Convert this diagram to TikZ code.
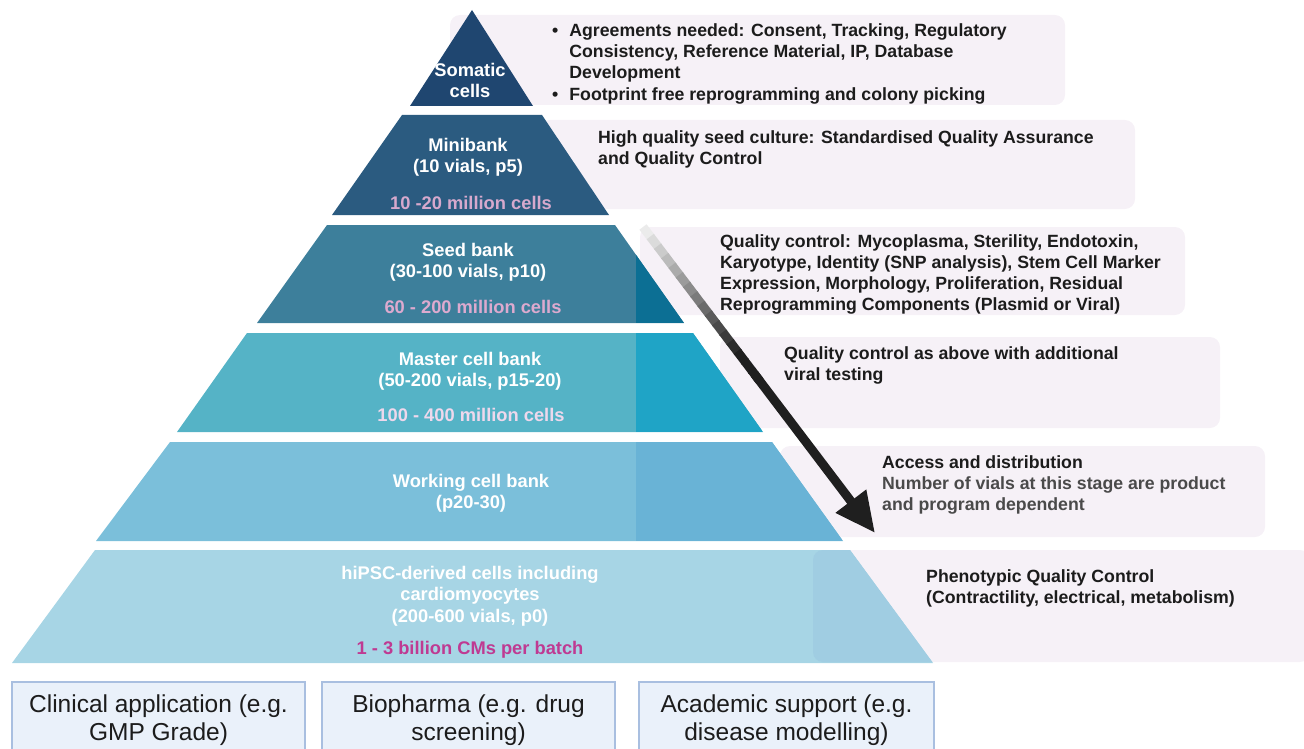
\documentclass[tikz,border=0pt]{standalone}
\usepackage{fontspec}
\setmainfont{Liberation Sans}
\usetikzlibrary{arrows.meta}
\usetikzlibrary{calc}

\definecolor{somatic}{HTML}{1F4670}
\definecolor{minibank}{HTML}{2B5B80}
\definecolor{seedL}{HTML}{3D7F9B}
\definecolor{seedR}{HTML}{0C6F94}
\definecolor{masterL}{HTML}{55B3C6}
\definecolor{masterR}{HTML}{1FA4C6}
\definecolor{workL}{HTML}{7BBFDA}
\definecolor{workR}{HTML}{69B3D6}
\definecolor{hipsc}{HTML}{A7D5E5}
\definecolor{hipscR}{HTML}{A0CDE2}
\definecolor{infobg}{HTML}{F6F1F7}
\definecolor{pinkA}{HTML}{D6A9CD}
\definecolor{pinkB}{HTML}{DDAACF}
\definecolor{pinkC}{HTML}{EED8EC}
\definecolor{cmpink}{HTML}{BF3A92}
\definecolor{appbg}{HTML}{EAF1FA}
\definecolor{appline}{HTML}{A9BFE0}
\definecolor{ink}{HTML}{1C1C1C}
\definecolor{greyink}{HTML}{4A4A4A}

\begin{document}
\begin{tikzpicture}[x=1pt, y=-1pt,
        tier/.style={text=white, font=\fontsize{18.3}{21.5}\selectfont\bfseries, align=center, inner sep=0pt, anchor=north},
        cellcount/.style={font=\fontsize{18.3}{21.5}\selectfont\bfseries, inner sep=0pt, anchor=north},
        info/.style={fill=infobg, rounded corners=10pt},
        infotext/.style={text=ink, font=\fontsize{17.7}{21.3}\selectfont\bfseries, align=left, inner sep=0pt, anchor=north west},
        app/.style={draw=appline, fill=appbg, line width=1.5pt, text=ink, font=\fontsize{24.5}{28}\selectfont, align=center, anchor=north, minimum height=76pt, inner sep=0pt}
        ]
        \useasboundingbox (0,0) rectangle (1304,749);
        \clip (0,0) rectangle (1304,749);

        % panels behind the pyramid
        \fill[info] (450,15) rectangle (1065,105);
        \fill[info] (540,120) rectangle (1135,209);
        \fill[info] (640,227) rectangle (1185,315);
        \fill[info] (720,337) rectangle (1220,428);
        \fill[info] (780,446) rectangle (1265,537);
        \fill[info] (813,550) rectangle (1310,662);

        % pyramid
        \fill[somatic] (472,10) -- (533,106) -- (410,106) -- cycle;
        \fill[minibank] (402,115) -- (542,115) -- (609,215) -- (332,215) -- cycle;
        \foreach \ya/\yb/\xa/\xb/\xc/\xd/\lc/\rc in {
            225/323/327/615/257/684/seedL/seedR,
            333/432/247/693/177/763/masterL/masterR,
            442/541/170/772/96/843/workL/workR}{
            \fill[\lc] (\xa,\ya) -- (\xb,\ya) -- (\xd,\yb) -- (\xc,\yb) -- cycle;
            \begin{scope}
                \clip (\xa,\ya) -- (\xb,\ya) -- (\xd,\yb) -- (\xc,\yb) -- cycle;
                \fill[\rc] (636,\ya) rectangle (\xd,\yb);
            \end{scope}
        }
        \fill[hipsc] (95,550) -- (850,550) -- (933,663) -- (12,663) -- cycle;
        \begin{scope}
            \clip (95,550) -- (850,550) -- (933,663) -- (12,663) -- cycle;
            \fill[hipscR, rounded corners=10pt] (813,550) rectangle (1310,662);
        \end{scope}

        % tier labels
        \node[tier] (somaticT) at (470,63) {Somatic\\cells};
        \node[tier] (miniT) at (468,138) {Minibank\\(10 vials, p5)};
        \node[cellcount, text=pinkA] (miniN) at (471,196) {10 -20 million cells};
        \node[tier] (seedT) at (468,243) {Seed bank\\(30-100 vials, p10)};
        \node[cellcount, text=pinkB] (seedN) at (473,300) {60 - 200 million cells};
        \node[tier] (masterT) at (470,352) {Master cell bank\\(50-200 vials, p15-20)};
        \node[cellcount, text=pinkC] (masterN) at (471,408) {100 - 400 million cells};
        \node[tier] (workT) at (471,474) {Working cell bank\\(p20-30)};
        \node[tier] (hipscT) at (470,566) {hiPSC-derived cells including\\cardiomyocytes\\(200-600 vials, p0)};
        \node[cellcount, text=cmpink] (hipscN) at (470,641) {1 - 3 billion CMs per batch};

        % process arrow, fading in from the top
        \coordinate (flowS) at (643,227);
        \coordinate (flowE) at (875,533);
        \foreach \i in {0,...,15}{
            \pgfmathsetmacro\ta{\i/32}
            \pgfmathsetmacro\tb{\i/32+0.035}
            \pgfmathsetmacro\tone{8+80*min(1,\ta/0.4)}
            \draw[line width=9pt, black!\tone] ($(flowS)!\ta!(flowE)$) -- ($(flowS)!\tb!(flowE)$);
        }
        \draw[line width=9pt, black!88, -{Triangle[length=40pt, width=36pt]}] ($(flowS)!0.48!(flowE)$) -- (flowE);

        % panel texts
        \node[infotext] (agreeT) at (552,21) {\begin{tabular}{@{}l@{\hspace{11pt}}l@{}}
            \textbullet & Agreements needed: Consent, Tracking, Regulatory\\
             & Consistency, Reference Material, IP, Database\\
             & Development\\
            \textbullet & Footprint free reprogramming and colony picking
            \end{tabular}};
        \node[infotext] (seedQ) at (598,130) {High quality seed culture: Standardised Quality Assurance\\and Quality Control};
        \node[infotext] (qcT) at (720,234) {Quality control: Mycoplasma, Sterility, Endotoxin,\\Karyotype, Identity (SNP analysis), Stem Cell Marker\\Expression, Morphology, Proliferation, Residual\\Reprogramming Components (Plasmid or Viral)};
        \node[infotext] (viralT) at (784,346) {Quality control as above with additional\\viral testing};
        \node[infotext] (accessT) at (882,455) {Access and distribution\\\textcolor{greyink}{Number of vials at this stage are product}\\\textcolor{greyink}{and program dependent}};
        \node[infotext] (phenoT) at (926,569) {Phenotypic Quality Control\\(Contractility, electrical, metabolism)};

        % end uses
        \node[app, minimum width=293pt] (clinical) at (158.5,681) {Clinical application (e.g.\\GMP Grade)};
        \node[app, minimum width=293pt] (biopharma) at (468.5,681) {Biopharma (e.g. drug\\screening)};
        \node[app, minimum width=295pt] (academic) at (786.5,681) {Academic support (e.g.\\disease modelling)};
\end{tikzpicture}
\end{document}
